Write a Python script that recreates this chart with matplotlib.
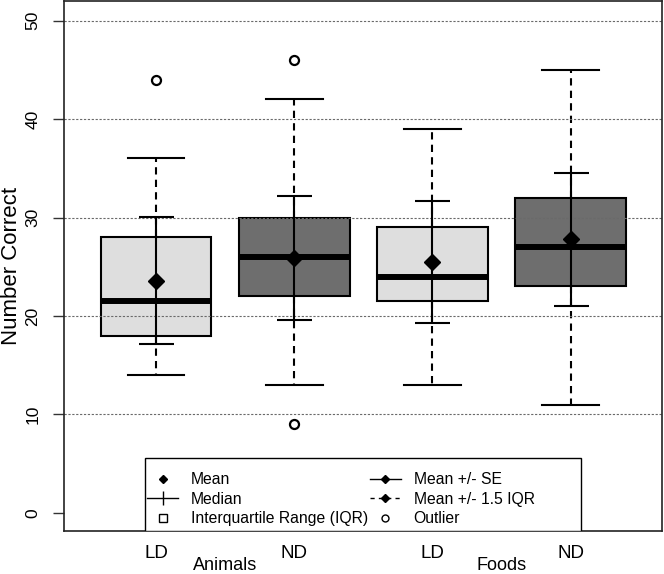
import matplotlib.pyplot as plt
from matplotlib.lines import Line2D
from matplotlib.patches import Rectangle

plt.rcParams['font.family'] = ['Liberation Sans', 'DejaVu Sans']

# ---------------- DATA ---------------- #
conditions = ["LD", "ND", "LD", "ND"]
groups = ["Animals", "Foods"]

q1 = [18.0, 22.0, 21.5, 23.0]
median = [21.5, 26.0, 24.0, 27.0]
q3 = [28.0, 30.0, 29.0, 32.0]
mean = [23.6, 25.9, 25.5, 27.8]
se_low = [17.2, 19.6, 19.3, 21.0]
se_high = [30.1, 32.2, 31.7, 34.5]
whisker_low = [14.0, 13.0, 13.0, 11.0]
whisker_high = [36.0, 42.0, 39.0, 45.0]
outliers = [[44.0], [46.0, 9.0], [], []]

box_colors = ["#dedede", "#6e6e6e", "#dedede", "#6e6e6e"]

# ---------------- FIGURE ---------------- #
fig = plt.figure(figsize=(6.64, 5.74), dpi=100)
ax = fig.add_axes([64 / 664, (574 - 531) / 574, (662 - 64) / 664, (531 - 1) / 574])

positions = [1, 2, 3, 4]
stats = []
for i in range(4):
    stats.append(dict(med=median[i], q1=q1[i], q3=q3[i], mean=mean[i],
                      whislo=whisker_low[i], whishi=whisker_high[i],
                      fliers=outliers[i]))

bp = ax.bxp(stats, positions=positions, widths=0.8, capwidths=0.41,
            showmeans=True, patch_artist=True, zorder=2,
            boxprops=dict(linewidth=1.5, edgecolor="black"),
            medianprops=dict(color="black", linewidth=4.3, solid_capstyle="butt"),
            whiskerprops=dict(color="black", linewidth=1.5, linestyle=(0, (3.5, 2.5))),
            capprops=dict(color="black", linewidth=1.5),
            meanprops=dict(marker="D", markersize=8, markerfacecolor="black",
                           markeredgecolor="black"),
            flierprops=dict(marker="o", markersize=6.5, markerfacecolor="white",
                            markeredgecolor="black", markeredgewidth=1.6))
for patch, c in zip(bp["boxes"], box_colors):
    patch.set_facecolor(c)

# mean +/- SE
yerr = [[m - lo for m, lo in zip(mean, se_low)],
        [hi - m for m, hi in zip(mean, se_high)]]
ax.errorbar(positions, mean, yerr=yerr, fmt="none", ecolor="black",
            elinewidth=1.5, capsize=12.6, capthick=1.5, zorder=2.2)

# grid lines
for y in [10, 20, 30, 40, 50]:
    ax.axhline(y, color="#6a6a6a", linewidth=0.8, linestyle=(0, (2, 1.5)), zorder=2.05)

ax.set_xlim(0.335, 4.66)
ax.set_ylim(-1.85, 52.0)

ax.set_yticks([0, 10, 20, 30, 40, 50])
ax.set_yticklabels(["0", "10", "20", "30", "40", "50"], rotation=90, va="center", fontsize=12.5)
ax.tick_params(axis="y", direction="out", length=8, width=1, pad=9, color="#333333")
ax.text(-0.087, 0.5, "Number Correct", transform=ax.transAxes, rotation=90,
        ha="center", va="center", fontsize=16)

ax.set_xticks(positions)
ax.set_xticklabels(conditions, fontsize=13.5)
ax.tick_params(axis="x", length=0, pad=10)

for g, x in zip(groups, [1.5, 3.5]):
    ax.text(x, -0.066, g, transform=ax.get_xaxis_transform(), ha="center", va="center",
            fontsize=13)

for s in ax.spines.values():
    s.set_linewidth(1.2)
    s.set_color("#222222")

# ---------------- LEGEND ---------------- #
handles = [
    Line2D([], [], color="black", marker="D", markersize=4, linestyle="none"),
    Line2D([], [], color="black", marker="|", markersize=10, linewidth=1),
    Line2D([], [], color="black", marker="s", markersize=6, markerfacecolor="white",
           markeredgewidth=1, linestyle="none"),
    Line2D([], [], color="black", marker="D", markersize=4, linewidth=1),
    Line2D([], [], color="black", marker="D", markersize=4, linewidth=1, linestyle=(0, (3, 3))),
    Line2D([], [], color="black", marker="o", markersize=5, markerfacecolor="white",
           markeredgewidth=1, linestyle="none"),
]
labels = ["Mean", "Median", "Interquartile Range (IQR)",
          "Mean +/- SE", "Mean +/- 1.5 IQR", "Outlier"]

frame = Rectangle(((145 - 64) / 598, 0), 436 / 598, 73 / 530, transform=ax.transAxes,
                  facecolor="white", edgecolor="black", linewidth=1, zorder=4)
ax.add_patch(frame)

leg = ax.legend(handles, labels, ncol=2, loc="upper left",
                bbox_to_anchor=((147 - 64) / 598, (531 - 472) / 530), borderaxespad=0,
                fontsize=11.3, frameon=False, handlelength=2.0,
                handletextpad=0.8, labelspacing=0.3, borderpad=0, columnspacing=0.1)
leg.set_zorder(5)

fig.savefig("out.png", dpi=100)
